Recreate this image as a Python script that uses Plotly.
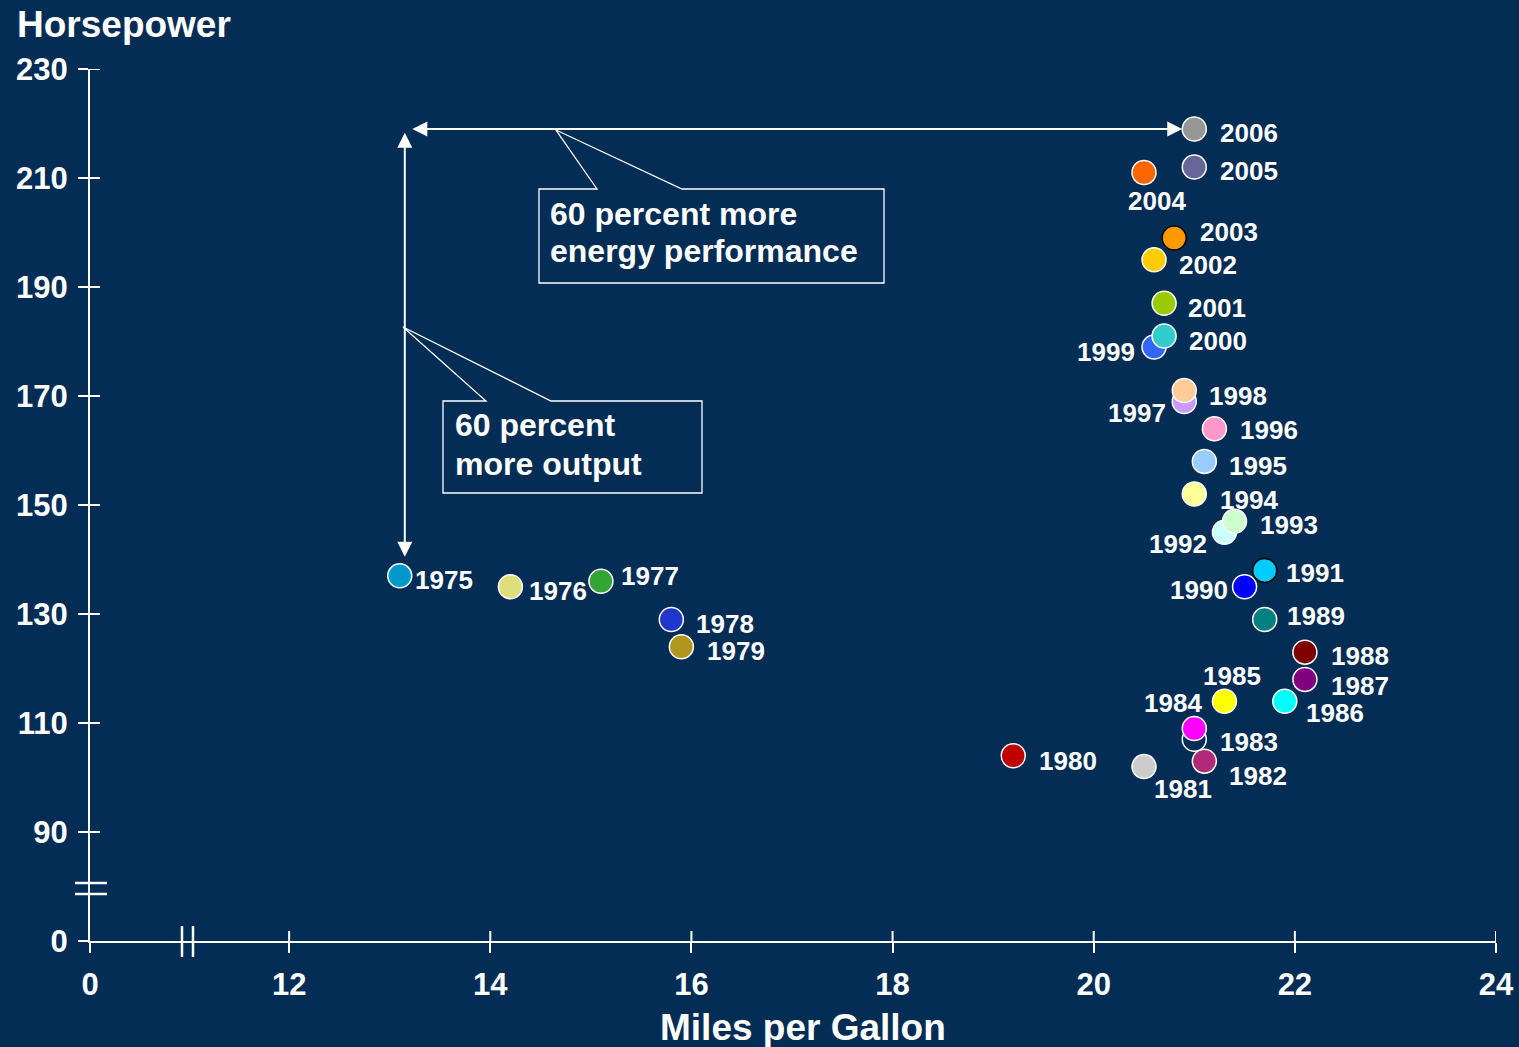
import plotly.graph_objects as go

# ---------------- data ----------------
years = [1975, 1976, 1977, 1978, 1979, 1980, 1981, 1982, 1983, 1984, 1985, 1986,
         1987, 1988, 1989, 1990, 1991, 1992, 1993, 1994, 1995, 1996, 1997, 1998,
         1999, 2000, 2001, 2002, 2003, 2004, 2005, 2006]
mpg = [13.1, 14.2, 15.1, 15.8, 15.9, 19.2, 20.5, 21.1, 21.0, 21.0, 21.3, 21.9,
       22.1, 22.1, 21.7, 21.5, 21.7, 21.3, 21.4, 21.0, 21.1, 21.2, 20.9, 20.9,
       20.6, 20.7, 20.7, 20.6, 20.8, 20.5, 21.0, 21.0]
horsepower = [137, 135, 136, 129, 124, 104, 102, 103, 107, 109, 114, 114,
              118, 123, 129, 135, 138, 145, 147, 152, 158, 164, 169, 171,
              179, 181, 187, 195, 199, 211, 212, 219]

x_tick_vals = [12, 14, 16, 18, 20, 22, 24]
y_tick_vals = [90, 110, 130, 150, 170, 190, 210, 230]

# ---------------- styles ----------------
BG = "#032D55"
FONT = "Liberation Sans, Arial, sans-serif"
X0, Y0 = 10.02, 70  # where the broken axes start (labelled "0")

colors = ["#0099CC", "#DEDE7A", "#33A532", "#1F35CC", "#B3961F", "#C00000", "#CCCCCC", "#B02A78",
          BG, "#FF00FF", "#FFFF00", "#00FFFF", "#800080", "#800000", "#008080", "#0000FF",
          "#00CCFF", "#CCFFFF", "#CCFFCC", "#FFFF99", "#99CCFF", "#FF99CC", "#CC99FF", "#FFCC99",
          "#3366FF", "#33CCCC", "#99CC00", "#FFCC00", "#FF9900", "#FF6600", "#666699", "#969696"]
outline = {1991: "black", 2003: "black"}

# label offsets (pixels, dx right, dy down) for each year label
label_off = {
    1975: (44, 4), 1976: (48, 4), 1977: (49, -5), 1978: (54, 5), 1979: (55, 4),
    1980: (55, 5), 1981: (39, 22), 1982: (54, 15), 1983: (55, 3), 1984: (-21, -25),
    1985: (8, -25), 1986: (50, 12), 1987: (55, 7), 1988: (55, 4), 1989: (51, -3),
    1990: (-46, 3), 1991: (50, 3), 1992: (-46, 12), 1993: (54, 4), 1994: (55, 6),
    1995: (54, 5), 1996: (55, 1), 1997: (-47, 12), 1998: (54, 5), 1999: (-48, 5),
    2000: (54, 5), 2001: (53, 5), 2002: (54, 5), 2003: (55, -6), 2004: (13, 28),
    2005: (55, 4), 2006: (55, 4),
}

W, H = 1519, 1047
ML, MR, MT, MB = 90, 23, 69, 106
PW, PH = W - ML - MR, H - MT - MB


def px2x(px):
    return (px - ML) / PW


def py2y(py):
    return (H - MB - py) / PH


fig = go.Figure()
fig.add_trace(go.Scatter(
    x=mpg, y=horsepower, mode="markers",
    marker=dict(size=24, color=colors,
                line=dict(color=[outline.get(y, "white") for y in years], width=1.5)),
    hoverinfo="skip", cliponaxis=False, showlegend=False,
))

annotations = []
for yr, xv, yv in zip(years, mpg, horsepower):
    dx, dy = label_off[yr]
    annotations.append(dict(
        x=xv, y=yv, xref="x", yref="y", text=str(yr), showarrow=False,
        xshift=dx, yshift=-dy, xanchor="center", yanchor="middle",
        font=dict(family=FONT, size=26, color="white", weight="bold"),
    ))

# arrows
arrow_x = 13.15
annotations.append(dict(
    x=mpg[-1], y=horsepower[-1], xref="x", yref="y",
    ax=arrow_x + 0.06, ay=horsepower[-1], axref="x", ayref="y",
    text="", showarrow=True, arrowside="end+start",
    arrowhead=2, startarrowhead=2, arrowsize=1.5, startarrowsize=1.5,
    arrowwidth=2, arrowcolor="white", standoff=12,
))
annotations.append(dict(
    x=arrow_x, y=horsepower[0], xref="x", yref="y",
    ax=arrow_x, ay=horsepower[-1] - 0.4, axref="x", ayref="y",
    text="", showarrow=True, arrowside="end+start",
    arrowhead=2, startarrowhead=2, arrowsize=1.5, startarrowsize=1.5,
    arrowwidth=2, arrowcolor="white", standoff=19,
))

# callout texts (one annotation per line)
callout_lines = [
    (548, 214, "60 percent more"), (548, 251, "energy performance"),
    (453, 425, "60 percent"), (453, 464, "more output"),
]
for px, py, t in callout_lines:
    annotations.append(dict(
        x=px2x(px), y=py2y(py), xref="paper", yref="paper", xanchor="left", yanchor="middle",
        showarrow=False, text=t,
        font=dict(family=FONT, size=32, color="white", weight="bold"),
    ))

# axis titles
annotations.append(dict(
    x=px2x(15), y=py2y(24), xref="paper", yref="paper", xanchor="left", yanchor="middle",
    showarrow=False, text="Horsepower",
    font=dict(family=FONT, size=37, color="white", weight="bold"),
))
annotations.append(dict(
    x=px2x(803), y=py2y(1027), xref="paper", yref="paper", xanchor="center", yanchor="middle",
    showarrow=False, text="Miles per Gallon",
    font=dict(family=FONT, size=37, color="white", weight="bold"),
))

shapes = []
LINE = dict(color="white", width=2)
# tick marks crossing the axes
for v in y_tick_vals:
    shapes.append(dict(type="line", xref="x", yref="y", xsizemode="pixel", xanchor=X0,
                       x0=-10, x1=10, y0=v, y1=v, line=LINE))
for v in x_tick_vals:
    shapes.append(dict(type="line", xref="x", yref="y", ysizemode="pixel", yanchor=Y0,
                       y0=-10, y1=10, x0=v, x1=v, line=LINE))
# origin extensions
shapes.append(dict(type="line", xref="x", yref="y", xsizemode="pixel", xanchor=X0,
                   x0=-13, x1=0, y0=Y0, y1=Y0, line=LINE))
shapes.append(dict(type="line", xref="x", yref="y", ysizemode="pixel", yanchor=Y0,
                   y0=-17, y1=0, x0=X0, x1=X0, line=LINE))


def callout(pts):
    d = "M " + " L ".join(f"{px2x(a):.5f},{py2y(b):.5f}" for a, b in pts) + " Z"
    return dict(type="path", xref="paper", yref="paper", path=d,
                line=dict(color="white", width=1.3), fillcolor=BG, layer="below")


shapes.append(callout([(597, 189), (539, 189), (539, 283), (884, 283), (884, 189), (682, 189), (556, 130)]))
shapes.append(callout([(486, 401), (443, 401), (443, 493), (702, 493), (702, 401), (551, 401), (403, 327)]))

# axis break marks
for py in (883, 894):
    shapes.append(dict(type="line", xref="paper", yref="paper", x0=px2x(75), x1=px2x(107),
                       y0=py2y(py), y1=py2y(py), line=dict(color="white", width=2.5)))
for px in (182, 193):
    shapes.append(dict(type="line", xref="paper", yref="paper", x0=px2x(px), x1=px2x(px),
                       y0=py2y(926), y1=py2y(957), line=dict(color="white", width=2.5)))

fig.update_layout(
    width=W, height=H, autosize=False,
    margin=dict(l=ML, r=MR, t=MT, b=MB, autoexpand=False),
    paper_bgcolor=BG, plot_bgcolor=BG,
    font=dict(family=FONT, color="white"),
    xaxis=dict(range=[X0, 24], showgrid=False, zeroline=False, showline=True, automargin=False,
               linecolor="white", linewidth=2, ticks="outside", ticklen=10, tickwidth=2,
               tickcolor="white", tickvals=[X0] + x_tick_vals,
               ticktext=["0"] + [str(v) for v in x_tick_vals], ticklabelstandoff=5,
               tickfont=dict(family=FONT, size=31, color="white", weight="bold")),
    yaxis=dict(range=[Y0, 230], showgrid=False, zeroline=False, showline=True, automargin=False,
               linecolor="white", linewidth=2, ticks="outside", ticklen=10, tickwidth=2,
               tickcolor="white", tickvals=[Y0] + y_tick_vals,
               ticktext=["0"] + [str(v) for v in y_tick_vals], ticklabelstandoff=4,
               tickfont=dict(family=FONT, size=31, color="white", weight="bold")),
    annotations=annotations,
    shapes=shapes,
)

fig.write_html("out.html")
